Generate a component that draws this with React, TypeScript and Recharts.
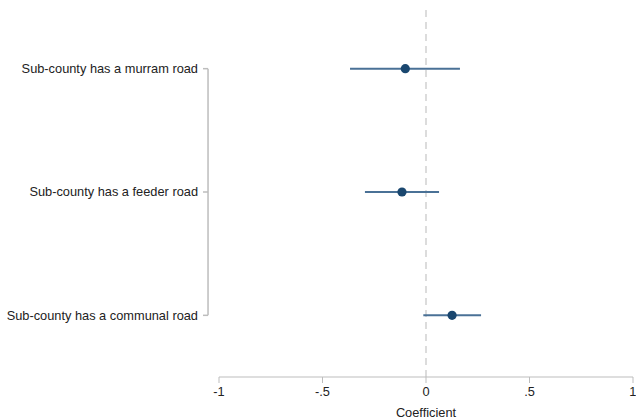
import { ErrorBar, ReferenceLine, Scatter, ScatterChart, XAxis, YAxis } from "recharts";

// 係数プロット（Stata coefplot 風）
const labels = [
  "Sub-county has a murram road",
  "Sub-county has a feeder road",
  "Sub-county has a communal road",
];
const coefs = [-0.1, -0.116, 0.126];
const ciLow = [-0.367, -0.295, -0.013];
const ciHigh = [0.164, 0.063, 0.266];
const rows = [1, 2, 3];

const xTicks = [-1, -0.5, 0, 0.5, 1];
const xTickLabels = ["-1", "-.5", "0", ".5", "1"];

const data = rows.map((row, i) => ({
  row,
  coef: coefs[i],
  err: [coefs[i] - ciLow[i], ciHigh[i] - coefs[i]],
}));

const FONT = "'Liberation Sans', Arial, sans-serif";
const AXIS_GRAY = "#bdbdbd";
const NAVY = "#1a476f";
const CI_BLUE = "#4a7196";
// y 軸の線は x 軸の左端より少し外側に置く（Stata の体裁）
const Y_AXIS_AT = -1.053;

function YTick(props: any) {
  const { x, y, payload } = props;
  return (
    <g>
      <line x1={x - 16} x2={x - 11} y1={y} y2={y} stroke={AXIS_GRAY} strokeWidth={1.5} />
      <text
        x={x - 21}
        y={y}
        dy="0.35em"
        textAnchor="end"
        fill="#222"
        fontSize={12.8}
        fontFamily={FONT}
      >
        {labels[payload.value - 1]}
      </text>
    </g>
  );
}

export default function App() {
  return (
    <div style={{ position: "absolute", left: 0, top: 0, background: "#fff" }}>
      <ScatterChart
        width={636}
        height={419}
        data={data}
        margin={{ top: 7, right: 3, bottom: 0, left: 0 }}
      >
        <XAxis
          type="number"
          dataKey="coef"
          domain={[-1, 1]}
          ticks={xTicks}
          tickFormatter={(v) => xTickLabels[xTicks.indexOf(v)] ?? String(v)}
          height={42}
          stroke={AXIS_GRAY}
          tickSize={6}
          tickMargin={4}
          tick={{ fill: "#222", fontSize: 12.8, fontFamily: FONT }}
          label={{
            value: "Coefficient",
            position: "insideBottom",
            offset: 2,
            fill: "#222",
            fontSize: 12.8,
            fontFamily: FONT,
          }}
        />
        <YAxis
          type="number"
          dataKey="row"
          domain={[0.5, 3.5]}
          ticks={rows}
          reversed
          width={219}
          axisLine={false}
          tickLine={false}
          tickSize={0}
          tickMargin={0}
          tick={<YTick />}
        />
        <ReferenceLine
          x={0}
          stroke="#dcdcdc"
          strokeWidth={2}
          strokeDasharray="7 5"
        />
        <ReferenceLine
          segment={[
            { x: Y_AXIS_AT, y: rows[0] },
            { x: Y_AXIS_AT, y: rows[rows.length - 1] },
          ]}
          ifOverflow="visible"
          stroke={AXIS_GRAY}
          strokeWidth={1.5}
        />
        <Scatter
          dataKey="coef"
          isAnimationActive={false}
          shape={(p: any) => <circle cx={p.cx} cy={p.cy} r={4.6} fill={NAVY} />}
        >
          <ErrorBar
            dataKey="err"
            direction="x"
            width={0}
            stroke={CI_BLUE}
            strokeWidth={2}
            isAnimationActive={false}
          />
        </Scatter>
      </ScatterChart>
    </div>
  );
}
